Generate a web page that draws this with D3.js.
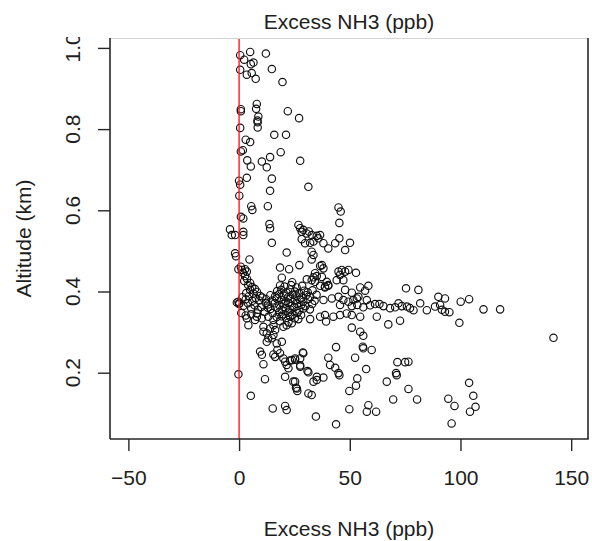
<!DOCTYPE html>
<html>
<head>
<meta charset="utf-8">
<script src="https://cdn.jsdelivr.net/npm/d3@7"></script>
<style>
  body { margin: 0; background: #fff; }
  text { font-family: "Liberation Sans", Arial, Helvetica, sans-serif; fill: #1e1e1e; }
</style>
</head>
<body>
<svg id="chart" width="592" height="541"></svg>
<script>
// Excess NH3 (ppb) for each sample
const excessNH3 = [
  0.5, 5.0, 12.1, 2.3, 6.5, 5.3, 0.5, 3.5, 5.7, 7.5, 14.8, 19.6,
  0.8, 0.8, 8.0, 7.7, 8.7, 8.3, 8.4, 8.4, 22.0, 27.1, 0.5, 15.9, 21.2,
  3.0, 5.0, 0.8, 1.7, 18.8, 14.0, 3.7, 10.3, 5.3, 12.5, 27.6,
  3.5, 0.0, 0.5, 14.8, 31.3, 14.0, 0.1, 5.5, 6.0, 13.0,
  0.8, 1.9, -4.1, -3.3, -1.8, 1.9, 1.9, 13.7, 14.0, 14.8, 21.5, -1.8, -1.4, 4.7,
  18.5, 22.6, 19.3, 27.2, -0.3, 1.2, 2.7, 3.5,
  0.8, 1.8, 2.7, 3.6, 5.0, 5.9, 7.2, 8.1, 9.5, 2.3, 4.1, 5.0, 6.5, 3.2,
  -1.0, 0.0, -0.3, 0.1,
  1.5, 3.0, 4.5, 6.0, 7.5, 9.0, 10.5, 12.0, 2.0, 4.0, 5.5, 7.0, 8.5, 10.0, 11.5,
  1.0, 3.0, 5.5, 8.0, 13.0, 3.5, 4.2, 8.0, 11.0, 12.5, 13.2, 15.5, 17.0,
  7.2, 10.3, 13.2, 15.5, 18.5, 22.3, 26.8, 32.1, 36.6,
  11.0, 14.0, 15.5, 16.3, 20.0, 21.5, 23.8, 12.5, 14.8, 19.3,
  9.5, 10.3, 11.0, 15.5, 16.3, 17.3, 18.5, 20.0, 20.8, 21.5, 22.3, 23.8, 25.3, 27.6, 28.8, 27.6, 30.9,
  20.8, -0.3, 11.7, 5.3, 24.5, 25.7, 26.3, 33.6, 35.1, 38.1, 31.3, 32.8,
  15.2, 20.8, 21.5, 34.7, 43.8, 49.8, 58.4, 57.7, 61.9, 69.6, 80.4,
  94.5, 97.3, 96.0, 104.3, 106.8, 105.8, 103.9, 76.5, 66.7, 70.9, 71.2, 71.5, 75.0, 76.5,
  49.8, 52.8, 53.4, 40.3, 41.1, 43.4, 45.3, 52.4, 57.4, 43.8, 55.9, 56.1, 59.9,
  54.7, 56.1, 50.9, 39.3, 67.4, 29.0, 25.3, 23.0, 27.6, 31.3, 35.1, 44.9, 25.3, 26.1,
  90.0, 93.0, 88.5, 90.8, 91.6, 93.0, 95.0, 100.1, 103.9, 110.4, 117.9, 99.5, 142.0, 75.4, 81.0,
  56.1, 59.2, 61.4, 63.4, 65.2, 68.2, 70.5, 72.0, 73.5, 75.8, 77.2, 78.8, 81.8, 84.8,
  38.8, 42.6, 45.6, 48.6, 50.9, 54.7, 62.2, 72.7,
  38.1, 41.9, 44.9, 47.1, 45.6, 49.4, 51.6, 53.9, 57.7, 53.4, 50.9,
  36.6, 38.8, 40.3, 47.9, 50.9, 54.7, 58.4, 56.9,
  37.4, 38.1, 44.9, 46.4, 47.9, 49.4, 52.8, 45.6, 47.1, 44.1,
  44.9, 45.9, 45.3, 36.6, 38.1, 40.3, 43.4, 45.3, 50.1, 47.9,
  26.8, 27.6, 28.3, 30.5, 32.8, 35.1, 35.8, 33.6, 32.1, 29.8, 28.3, 32.8, 33.6, 32.8, 36.6,
  30.6, 33.6, 34.3, 35.1, 37.4, 38.8, 40.3, 53.2, 29.0, 31.5, 34.3, 32.8, 39.6,
  17.2, 19.1, 21.3, 23.0, 25.2, 27.1, 29.4, 31.0, 33.2,
  14.1, 16.3, 18.0, 20.2, 22.1, 24.3, 26.0, 28.2, 30.3, 32.1, 35.0,
  12.2, 15.0, 17.1, 19.2, 21.0, 23.2, 25.1, 27.3, 29.0, 31.2, 34.1,
  13.0, 16.1, 18.2, 20.1, 22.3, 24.0, 26.2, 28.1, 30.0, 33.0,
  14.2, 17.0, 19.3, 21.1, 23.1, 25.0, 27.2, 29.1, 32.0,
  15.1, 18.1, 20.0, 22.2, 24.1, 26.3, 28.0,
  17.0, 19.2, 21.2, 23.1, 25.2,
  20.5, 23.5, 26.0, 28.5, 24.0, 18.5
];

// Altitude (km) for each sample, same order
const altitude = [
  0.982, 0.990, 0.986, 0.971, 0.964, 0.960, 0.946, 0.934, 0.938, 0.924, 0.948, 0.916,
  0.849, 0.844, 0.862, 0.850, 0.831, 0.821, 0.817, 0.804, 0.844, 0.827, 0.803, 0.786, 0.786,
  0.774, 0.768, 0.745, 0.748, 0.743, 0.731, 0.723, 0.720, 0.708, 0.706, 0.722,
  0.680, 0.673, 0.663, 0.678, 0.658, 0.648, 0.636, 0.610, 0.601, 0.610,
  0.584, 0.580, 0.553, 0.539, 0.539, 0.547, 0.539, 0.566, 0.556, 0.520, 0.496, 0.494, 0.487, 0.479,
  0.459, 0.455, 0.434, 0.465, 0.455, 0.453, 0.455, 0.449,
  0.461, 0.446, 0.438, 0.431, 0.421, 0.411, 0.406, 0.399, 0.389, 0.426, 0.416, 0.404, 0.395, 0.396,
  0.373, 0.369, 0.375, 0.371,
  0.386, 0.381, 0.389, 0.377, 0.384, 0.378, 0.385, 0.372, 0.365, 0.371, 0.358, 0.366, 0.355, 0.362, 0.350,
  0.347, 0.341, 0.344, 0.338, 0.360, 0.334, 0.317, 0.346, 0.313, 0.297, 0.285, 0.293, 0.272,
  0.330, 0.334, 0.338, 0.330, 0.327, 0.324, 0.332, 0.332, 0.338,
  0.301, 0.309, 0.317, 0.305, 0.313, 0.317, 0.322, 0.276, 0.285, 0.276,
  0.252, 0.244, 0.221, 0.245, 0.239, 0.256, 0.248, 0.235, 0.227, 0.219, 0.211, 0.231, 0.235, 0.235, 0.250, 0.215, 0.204,
  0.190, 0.196, 0.184, 0.143, 0.178, 0.163, 0.155, 0.178, 0.182, 0.188, 0.149, 0.145,
  0.112, 0.118, 0.108, 0.092, 0.073, 0.110, 0.120, 0.104, 0.104, 0.134, 0.134,
  0.136, 0.118, 0.075, 0.104, 0.116, 0.143, 0.175, 0.160, 0.178, 0.199, 0.194, 0.226, 0.226, 0.227,
  0.155, 0.168, 0.186, 0.237, 0.219, 0.212, 0.194, 0.237, 0.209, 0.263, 0.264, 0.260, 0.256,
  0.301, 0.291, 0.311, 0.326, 0.319, 0.248, 0.232, 0.230, 0.218, 0.201, 0.190, 0.199, 0.178, 0.161,
  0.387, 0.383, 0.363, 0.367, 0.355, 0.350, 0.349, 0.375, 0.381, 0.356, 0.356, 0.323, 0.286, 0.408, 0.404,
  0.361, 0.366, 0.369, 0.369, 0.364, 0.359, 0.361, 0.371, 0.364, 0.363, 0.359, 0.354, 0.371, 0.354,
  0.342, 0.338, 0.342, 0.346, 0.342, 0.338, 0.338, 0.328,
  0.379, 0.383, 0.387, 0.379, 0.367, 0.375, 0.379, 0.387, 0.379, 0.367, 0.364,
  0.414, 0.410, 0.414, 0.404, 0.397, 0.410, 0.414, 0.402,
  0.465, 0.457, 0.449, 0.453, 0.449, 0.453, 0.446, 0.441, 0.428, 0.428,
  0.607, 0.597, 0.569, 0.539, 0.519, 0.506, 0.519, 0.531, 0.520, 0.502,
  0.564, 0.556, 0.547, 0.543, 0.539, 0.537, 0.531, 0.523, 0.520, 0.519, 0.529, 0.498, 0.490, 0.479, 0.463,
  0.430, 0.435, 0.424, 0.438, 0.436, 0.412, 0.416, 0.383, 0.552, 0.548, 0.445, 0.428, 0.424,
  0.401, 0.404, 0.398, 0.405, 0.400, 0.396, 0.402, 0.398, 0.403,
  0.391, 0.388, 0.393, 0.390, 0.386, 0.392, 0.389, 0.385, 0.391, 0.387, 0.392,
  0.381, 0.378, 0.383, 0.379, 0.376, 0.382, 0.378, 0.380, 0.375, 0.381, 0.377,
  0.368, 0.371, 0.366, 0.369, 0.372, 0.365, 0.370, 0.367, 0.364, 0.369,
  0.357, 0.360, 0.355, 0.359, 0.356, 0.361, 0.354, 0.358, 0.356,
  0.347, 0.349, 0.344, 0.348, 0.343, 0.347, 0.342,
  0.337, 0.339, 0.335, 0.338, 0.334,
  0.412, 0.416, 0.410, 0.414, 0.423, 0.415
];

const xTicks = [-50, 0, 50, 100, 150];
const yTicks = [0.2, 0.4, 0.6, 0.8, 1.0];
const xDomain = [-58.3, 157.6];
const yDomain = [0.0367, 1.0244];
const refLineAt = 0;

const chartTitle = "Excess NH3 (ppb)";
const xTitle = "Excess NH3 (ppb)";
const yTitle = "Altitude (km)";

const plot = { left: 110, right: 588, top: 38, bottom: 439 };
const svg = d3.select("#chart");
const ink = "#262626";

const x = d3.scaleLinear().domain(xDomain).range([plot.left, plot.right]);
const y = d3.scaleLinear().domain(yDomain).range([plot.bottom, plot.top]);

// clip region: nothing drawn above the plot's top edge except the title
svg.append("defs").append("clipPath").attr("id", "below-top")
  .append("rect").attr("x", 0).attr("y", plot.top - 1).attr("width", 592).attr("height", 541);

// points (open circles)
const pts = excessNH3.map((v, i) => ({ v, a: altitude[i] }));
svg.append("g")
  .selectAll("circle").data(pts).join("circle")
  .attr("cx", d => x(d.v))
  .attr("cy", d => y(d.a))
  .attr("r", 3.7)
  .attr("fill", "none")
  .attr("stroke", "#111")
  .attr("stroke-width", 1.15);

// vertical reference line at zero
svg.append("line")
  .attr("x1", x(refLineAt)).attr("x2", x(refLineAt))
  .attr("y1", plot.top).attr("y2", plot.bottom)
  .attr("stroke", "#ff1a1a").attr("stroke-width", 1.4);

// plot frame
svg.append("line").attr("x1", plot.left).attr("x2", plot.right)
  .attr("y1", plot.top + 0.5).attr("y2", plot.top + 0.5)
  .attr("stroke", "#d4d4d4").attr("stroke-width", 1);
svg.append("line").attr("x1", plot.left).attr("x2", plot.right + 0.75)
  .attr("y1", plot.bottom).attr("y2", plot.bottom)
  .attr("stroke", ink).attr("stroke-width", 1.6);
svg.append("line").attr("x1", plot.left).attr("x2", plot.left)
  .attr("y1", plot.top).attr("y2", plot.bottom)
  .attr("stroke", ink).attr("stroke-width", 1.6);
svg.append("line").attr("x1", plot.right).attr("x2", plot.right)
  .attr("y1", plot.top).attr("y2", plot.bottom)
  .attr("stroke", ink).attr("stroke-width", 1.6);

// x axis
const xAxis = d3.axisBottom(x).tickValues(xTicks).tickSize(12).tickPadding(19)
  .tickFormat(d3.format("d"));
const gx = svg.append("g").attr("transform", `translate(0,${plot.bottom})`).call(xAxis);
gx.select(".domain").remove();
gx.selectAll(".tick line").attr("stroke", ink).attr("stroke-width", 1.4);
gx.selectAll(".tick text")
  .attr("font-size", 21).attr("fill", "#1e1e1e")
  .style("font-family", '"Liberation Sans", Arial, sans-serif');

// y axis with rotated labels
const yAxis = d3.axisLeft(y).tickValues(yTicks).tickSize(12).tickFormat(d3.format(".1f"));
const gy = svg.append("g").attr("transform", `translate(${plot.left},0)`).call(yAxis);
gy.select(".domain").remove();
gy.selectAll(".tick line").attr("stroke", ink).attr("stroke-width", 1.4);
gy.selectAll(".tick text").remove();
svg.append("g").attr("clip-path", "url(#below-top)")
  .selectAll("text").data(yTicks).join("text")
  .attr("transform", d => `translate(80,${y(d)}) rotate(-90)`)
  .attr("text-anchor", "middle")
  .attr("font-size", 21)
  .text(d => d3.format(".1f")(d));

// titles
const cx = (plot.left + plot.right) / 2;
svg.append("text").attr("x", cx).attr("y", 29)
  .attr("text-anchor", "middle").attr("font-size", 21).text(chartTitle);
svg.append("text").attr("x", cx).attr("y", 536)
  .attr("text-anchor", "middle").attr("font-size", 21).text(xTitle);
svg.append("text")
  .attr("transform", `translate(31,${(plot.top + plot.bottom) / 2}) rotate(-90)`)
  .attr("text-anchor", "middle").attr("font-size", 21).text(yTitle);
</script>
</body>
</html>
